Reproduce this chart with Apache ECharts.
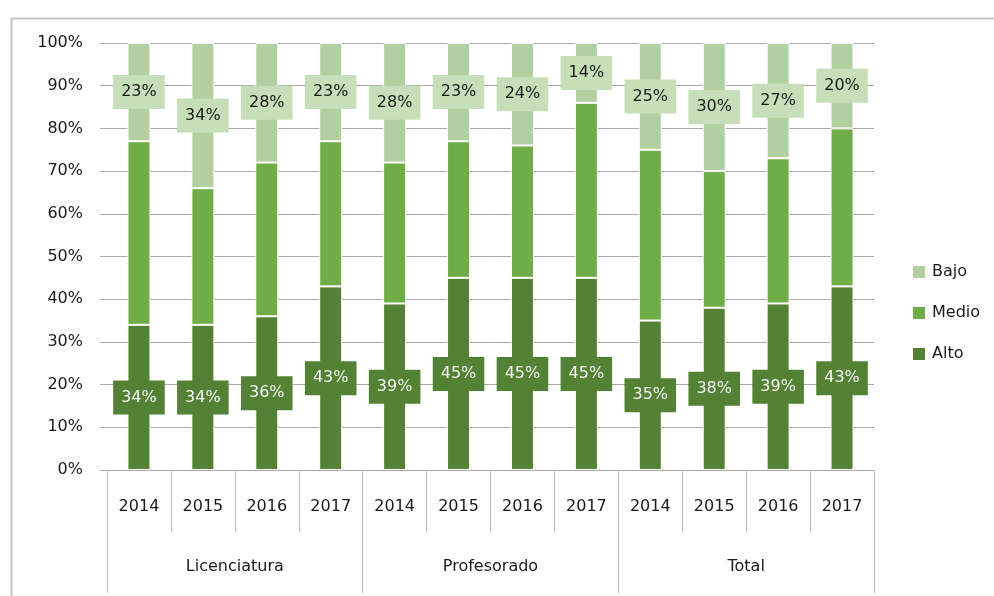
<!DOCTYPE html>
<html>
<head>
<meta charset="utf-8">
<script src="https://cdn.jsdelivr.net/npm/echarts@6/dist/echarts.min.js"></script>
<style>html,body{margin:0;padding:0;background:#fff}#c{width:994px;height:596px}</style>
</head>
<body>
<div id="c"></div>
<script>
const years = ['2014','2015','2016','2017','2014','2015','2016','2017','2014','2015','2016','2017'];
const groups = ['Licenciatura','Profesorado','Total'];
const alto  = [34, 34, 36, 43, 39, 45, 45, 45, 35, 38, 39, 43];
const medio = [43, 32, 36, 34, 33, 32, 31, 41, 40, 32, 34, 37];
const bajo  = [23, 34, 28, 23, 28, 23, 24, 14, 25, 30, 27, 20];
const yTicks = [0, 10, 20, 30, 40, 50, 60, 70, 80, 90, 100];

const FONT = 'DejaVu Sans';
const chart = echarts.init(document.getElementById('c'), null, {renderer: 'canvas'});
chart.setOption({
  animation: false,
  backgroundColor: '#fff',
  textStyle: {fontFamily: FONT},
  graphic: [{
    type: 'rect', left: 9, top: 16, silent: true,
    shape: {width: 1000, height: 600},
    style: {fill: 'none', stroke: '#c4c4c4', lineWidth: 2}
  }],
  legend: {
    orient: 'vertical', left: 908, top: 259,
    data: ['Bajo', 'Medio', 'Alto'],
    itemWidth: 12, itemHeight: 12, itemGap: 25,
    icon: 'rect',
    itemStyle: {borderWidth: 0},
    textStyle: {fontFamily: FONT, fontSize: 16, color: '#1a1a1a', padding: [0, 0, 0, 2]}
  },
  grid: {left: 107, right: 120, top: 43, bottom: 126, containLabel: false},
  xAxis: [{
    type: 'category', data: years, position: 'bottom',
    axisLine: {show: true, lineStyle: {color: '#a8a8a8', width: 1}},
    axisTick: {show: true, interval: 0, length: 62, lineStyle: {color: '#bfbfbf'}},
    axisLabel: {interval: 0, margin: 29, fontFamily: FONT, fontSize: 16, color: '#1a1a1a'}
  }, {
    type: 'category', data: groups, position: 'bottom',
    axisLine: {show: false},
    axisTick: {show: true, interval: 0, length: 123, lineStyle: {color: '#bfbfbf'}},
    axisLabel: {interval: 0, margin: 89, fontFamily: FONT, fontSize: 16, color: '#1a1a1a'}
  }],
  yAxis: {
    type: 'value', min: yTicks[0], max: yTicks[yTicks.length - 1], interval: 10,
    axisLine: {show: false},
    axisTick: {show: true, length: 7, lineStyle: {color: '#a8a8a8'}},
    splitLine: {show: true, lineStyle: {color: '#a8a8a8', width: 1}},
    axisLabel: {formatter: '{value}%', margin: 24, fontFamily: FONT, fontSize: 16, color: '#1a1a1a'}
  },
  series: [{
    name: 'Alto', type: 'bar', stack: 'total', data: alto, barWidth: '36%',
    itemStyle: {color: '#548235', borderColor: '#fff', borderWidth: 1},
    label: {show: true, position: 'inside', formatter: '{c}%', fontFamily: FONT, fontSize: 16,
      color: '#f4f4f4', backgroundColor: '#548235', padding: [9, 8, 9, 8], lineHeight: 16}
  }, {
    name: 'Medio', type: 'bar', stack: 'total', data: medio, barWidth: '36%',
    itemStyle: {color: '#70ad47', borderColor: '#fff', borderWidth: 1}
  }, {
    name: 'Bajo', type: 'bar', stack: 'total', data: bajo, barWidth: '36%',
    itemStyle: {color: '#b2cfa2', borderColor: '#fff', borderWidth: 1},
    label: {show: true, position: 'inside', formatter: '{c}%', fontFamily: FONT, fontSize: 16,
      color: '#1a1a1a', backgroundColor: '#c6dfb8', padding: [9, 8, 9, 8], lineHeight: 16}
  }]
});
</script>
</body>
</html>
